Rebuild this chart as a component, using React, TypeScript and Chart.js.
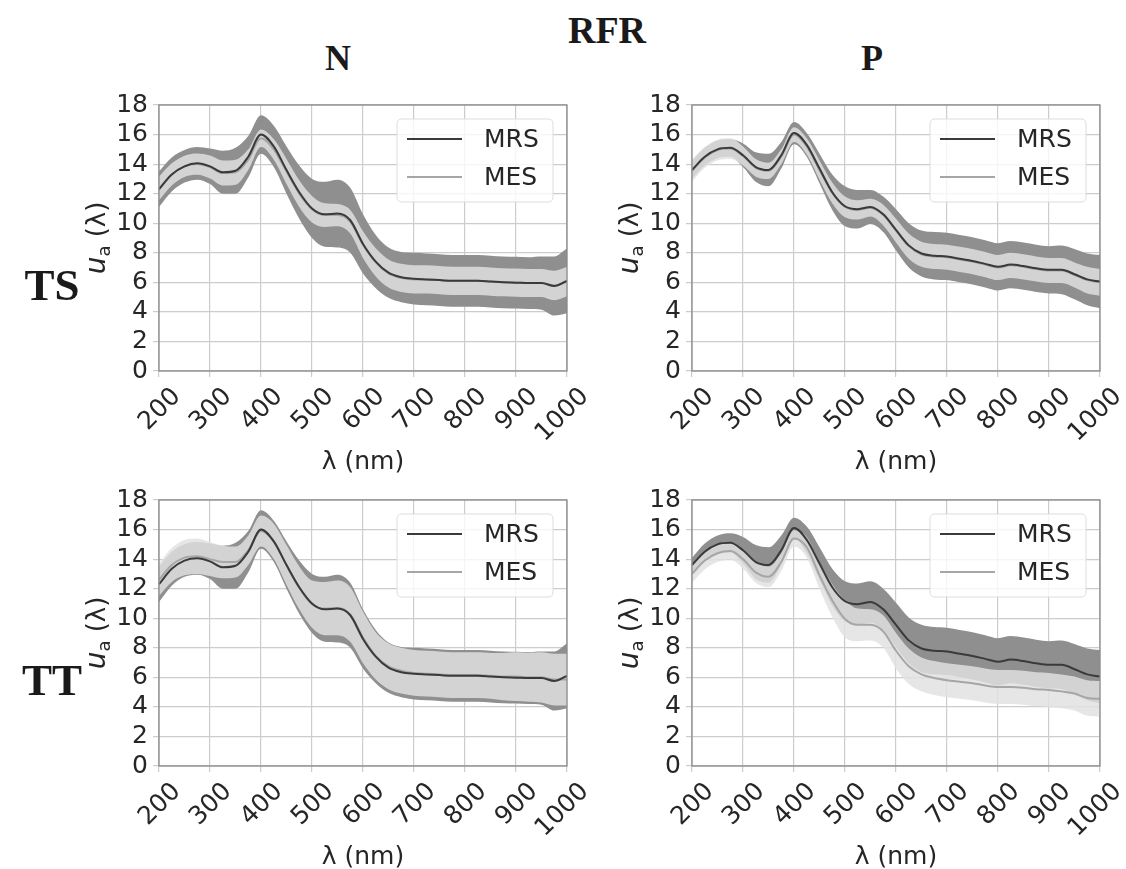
import React, { useEffect, useRef } from "react";
import { Chart, registerables } from "chart.js";

Chart.register(...registerables);

// ---------- data ----------
const WAVELENGTHS = [
  200, 225, 250, 275, 300, 325, 350, 375, 400, 425, 450, 475, 500, 525, 550, 575, 600,
  625, 650, 675, 700, 725, 750, 775, 800, 825, 850, 875, 900, 925, 950, 975, 1000,
];

const SERIES_LABELS = ["MRS", "MES"];
const ROW_LABELS = ["TS", "TT"];
const COL_LABELS = ["N", "P"];
const FIG_TITLE = "RFR";
const X_TITLE = "λ (nm)";

// TS / N
const TS_N_MRS = [12.3, 13.3, 13.85, 14.05, 13.85, 13.45, 13.55, 14.5, 16.0, 15.2, 13.6, 12.1, 11.0, 10.6, 10.65, 10.2, 8.6, 7.4, 6.65, 6.35, 6.25, 6.2, 6.15, 6.1, 6.1, 6.1, 6.05, 6.0, 5.98, 5.95, 5.95, 5.75, 6.1];
const TS_N_MRS_SD = [1.2, 1.15, 1.1, 1.1, 1.2, 1.45, 1.55, 1.4, 1.3, 1.4, 1.6, 1.8, 2.0, 2.2, 2.3, 2.2, 2.0, 1.8, 1.7, 1.7, 1.75, 1.75, 1.75, 1.75, 1.75, 1.75, 1.75, 1.75, 1.75, 1.75, 1.8, 2.0, 2.2];
const TS_N_MES = [12.35, 13.3, 13.85, 14.0, 13.8, 13.4, 13.45, 14.3, 15.75, 15.0, 13.5, 12.0, 10.95, 10.55, 10.55, 10.1, 8.55, 7.35, 6.6, 6.3, 6.2, 6.2, 6.15, 6.1, 6.1, 6.1, 6.05, 6.0, 5.98, 5.95, 5.95, 5.78, 6.05];
const TS_N_MES_SD = [0.8, 0.75, 0.72, 0.72, 0.78, 0.85, 0.85, 0.7, 0.6, 0.7, 0.85, 0.9, 0.9, 0.8, 0.75, 0.8, 0.9, 0.95, 0.95, 0.95, 0.95, 0.95, 0.95, 0.95, 0.95, 0.95, 0.95, 0.95, 0.95, 0.95, 0.95, 1.0, 1.0];

// TS / P
const TS_P_MRS = [13.6, 14.5, 15.0, 15.1, 14.6, 13.8, 13.6, 14.6, 16.1, 15.3, 13.7, 12.1, 11.15, 10.95, 11.1, 10.6, 9.55, 8.5, 7.95, 7.8, 7.75, 7.6, 7.45, 7.25, 7.05, 7.2, 7.1, 6.95, 6.85, 6.85, 6.55, 6.2, 6.05];
const TS_P_MRS_SD = [0.6, 0.6, 0.6, 0.6, 0.8, 1.0, 1.1, 0.9, 0.75, 0.8, 1.0, 1.2, 1.35, 1.3, 1.15, 1.2, 1.4, 1.5, 1.55, 1.6, 1.6, 1.6, 1.6, 1.6, 1.6, 1.6, 1.6, 1.6, 1.6, 1.65, 1.7, 1.75, 1.8];
const TS_P_MES = [13.55, 14.45, 14.95, 15.05, 14.55, 13.75, 13.55, 14.5, 16.0, 15.2, 13.6, 12.05, 11.1, 10.9, 11.05, 10.55, 9.5, 8.45, 7.9, 7.75, 7.7, 7.55, 7.4, 7.2, 7.0, 7.15, 7.05, 6.9, 6.8, 6.8, 6.5, 6.15, 6.0];
const TS_P_MES_SD = [0.75, 0.7, 0.7, 0.7, 0.65, 0.6, 0.55, 0.5, 0.5, 0.55, 0.65, 0.7, 0.7, 0.65, 0.6, 0.7, 0.8, 0.85, 0.85, 0.85, 0.85, 0.85, 0.85, 0.85, 0.85, 0.85, 0.85, 0.85, 0.85, 0.85, 0.85, 0.9, 0.9];

// TT / N
const TT_N_MRS = [12.3, 13.35, 13.9, 14.05, 13.85, 13.45, 13.55, 14.5, 16.0, 15.2, 13.6, 12.1, 11.0, 10.6, 10.65, 10.2, 8.6, 7.4, 6.65, 6.35, 6.25, 6.2, 6.15, 6.1, 6.1, 6.1, 6.05, 6.0, 5.98, 5.95, 5.95, 5.75, 6.1];
const TT_N_MRS_SD = [1.2, 1.15, 1.1, 1.1, 1.2, 1.45, 1.55, 1.4, 1.3, 1.4, 1.6, 1.8, 2.0, 2.2, 2.3, 2.2, 2.0, 1.8, 1.7, 1.7, 1.75, 1.75, 1.75, 1.75, 1.75, 1.75, 1.75, 1.75, 1.75, 1.75, 1.8, 2.0, 2.2];
const TT_N_MES = [12.6, 13.6, 14.1, 14.2, 14.0, 13.8, 13.8, 14.6, 15.9, 15.2, 13.6, 12.05, 10.95, 10.65, 10.7, 10.25, 8.7, 7.45, 6.75, 6.45, 6.3, 6.25, 6.2, 6.15, 6.15, 6.15, 6.1, 6.05, 6.05, 6.0, 6.0, 5.85, 5.85];
const TT_N_MES_SD = [1.1, 1.15, 1.2, 1.2, 1.15, 1.1, 1.05, 1.0, 1.05, 1.2, 1.35, 1.45, 1.6, 1.8, 1.85, 1.85, 1.75, 1.6, 1.55, 1.55, 1.55, 1.55, 1.55, 1.55, 1.55, 1.55, 1.55, 1.6, 1.65, 1.65, 1.7, 1.75, 1.75];

// TT / P
const TT_P_MRS = [13.6, 14.5, 15.0, 15.1, 14.6, 13.8, 13.6, 14.6, 16.1, 15.3, 13.7, 12.1, 11.15, 10.95, 11.1, 10.6, 9.55, 8.5, 7.95, 7.8, 7.75, 7.6, 7.45, 7.25, 7.05, 7.2, 7.1, 6.95, 6.85, 6.85, 6.55, 6.2, 6.05];
const TT_P_MRS_SD = [0.5, 0.55, 0.6, 0.65, 0.9, 1.15, 1.2, 1.0, 0.7, 0.9, 1.1, 1.25, 1.35, 1.4, 1.4, 1.4, 1.5, 1.55, 1.6, 1.6, 1.6, 1.6, 1.6, 1.6, 1.6, 1.6, 1.6, 1.6, 1.6, 1.65, 1.7, 1.75, 1.8];
const TT_P_MES = [13.0, 13.9, 14.4, 14.55, 14.0, 13.1, 12.8, 13.8, 15.4, 14.8, 12.9, 11.2, 9.95, 9.55, 9.55, 9.1, 7.8, 6.75, 6.2, 5.95, 5.8, 5.7, 5.6, 5.45, 5.35, 5.35, 5.3, 5.2, 5.15, 5.05, 4.9, 4.6, 4.55];
const TT_P_MES_SD = [0.6, 0.6, 0.6, 0.6, 0.65, 0.7, 0.7, 0.6, 0.55, 0.7, 0.9, 1.1, 1.25, 1.1, 1.05, 1.1, 1.2, 1.2, 1.15, 1.15, 1.15, 1.15, 1.15, 1.15, 1.15, 1.15, 1.15, 1.15, 1.15, 1.15, 1.15, 1.2, 1.2];

// ---------- styling / layout ----------
const MRS_LINE = "#3a3a3a";
const MES_LINE = "#a6a6a6";
const MRS_BAND = "#8f8f8f";
const MES_BAND = "rgba(225,225,225,0.83)";
const GRID = "#cccccc";
const SPINE = "#8a8a8a";
const TEXT = "#262626";
const SANS = "'DejaVu Sans', sans-serif";
const SERIF = "'Liberation Serif', 'Times New Roman', serif";

const PLOT_W = 408;
const PLOT_H = 266;
const Y_AXIS_W = 80;
const PAD_TOP = 15;
const PAD_RIGHT = 26;
const X_AXIS_H = 103;

type PanelDef = {
  left: number;
  top: number;
  mrs: number[];
  mrsSd: number[];
  mes: number[];
  mesSd: number[];
};

const PANELS: PanelDef[] = [
  { left: 159, top: 105, mrs: TS_N_MRS, mrsSd: TS_N_MRS_SD, mes: TS_N_MES, mesSd: TS_N_MES_SD },
  { left: 692, top: 105, mrs: TS_P_MRS, mrsSd: TS_P_MRS_SD, mes: TS_P_MES, mesSd: TS_P_MES_SD },
  { left: 159, top: 500, mrs: TT_N_MRS, mrsSd: TT_N_MRS_SD, mes: TT_N_MES, mesSd: TT_N_MES_SD },
  { left: 692, top: 500, mrs: TT_P_MRS, mrsSd: TT_P_MRS_SD, mes: TT_P_MES, mesSd: TT_P_MES_SD },
];

const pts = (vals: number[]) => WAVELENGTHS.map((x, i) => ({ x, y: vals[i] }));
const offs = (vals: number[], sd: number[], sign: number) =>
  WAVELENGTHS.map((x, i) => ({ x, y: vals[i] + sign * sd[i] }));

const decorPlugin = {
  id: "decor",
  afterDatasetsDraw(chart: any) {
    const { ctx, chartArea } = chart;
    ctx.save();
    ctx.strokeStyle = SPINE;
    ctx.lineWidth = 1.3;
    ctx.strokeRect(chartArea.left, chartArea.top, chartArea.right - chartArea.left, chartArea.bottom - chartArea.top);
    ctx.restore();
  },
  afterDraw(chart: any) {
    const { ctx, chartArea } = chart;
    const ds = chart.data.datasets;
    ctx.save();
    // legend
    const bw = 156, bh = 83;
    const bx = chartArea.right - 14 - bw;
    const by = chartArea.top + 14;
    const r = 5;
    ctx.beginPath();
    ctx.moveTo(bx + r, by);
    ctx.lineTo(bx + bw - r, by);
    ctx.quadraticCurveTo(bx + bw, by, bx + bw, by + r);
    ctx.lineTo(bx + bw, by + bh - r);
    ctx.quadraticCurveTo(bx + bw, by + bh, bx + bw - r, by + bh);
    ctx.lineTo(bx + r, by + bh);
    ctx.quadraticCurveTo(bx, by + bh, bx, by + bh - r);
    ctx.lineTo(bx, by + r);
    ctx.quadraticCurveTo(bx, by, bx + r, by);
    ctx.closePath();
    ctx.fillStyle = "rgba(255,255,255,0.8)";
    ctx.fill();
    ctx.strokeStyle = "#dddddd";
    ctx.lineWidth = 1;
    ctx.stroke();
    const entries = [ds[5], ds[4]];
    entries.forEach((d: any, i: number) => {
      const y = by + 20 + i * 38;
      ctx.beginPath();
      ctx.moveTo(bx + 10, y);
      ctx.lineTo(bx + 65, y);
      ctx.strokeStyle = d.borderColor;
      ctx.lineWidth = 2;
      ctx.stroke();
      ctx.fillStyle = TEXT;
      ctx.font = `25px ${SANS}`;
      ctx.textAlign = "left";
      ctx.textBaseline = "middle";
      ctx.fillText(d.label, bx + 87, y + 1);
    });
    // x title
    ctx.fillStyle = TEXT;
    ctx.font = `25px ${SANS}`;
    ctx.textAlign = "center";
    ctx.textBaseline = "middle";
    ctx.fillText(X_TITLE, (chartArea.left + chartArea.right) / 2, chartArea.bottom + 91);
    // y title: u_a (λ)
    const cx = chartArea.left - 63;
    const cy = (chartArea.top + chartArea.bottom) / 2;
    ctx.translate(cx, cy);
    ctx.rotate(-Math.PI / 2);
    const fMain = `italic 28px ${SANS}`;
    const fSub = `18px ${SANS}`;
    const fRest = `26px ${SANS}`;
    ctx.font = fMain;
    const wU = ctx.measureText("u").width;
    ctx.font = fSub;
    const wA = ctx.measureText("a").width;
    ctx.font = fRest;
    const rest = " (λ)";
    const wR = ctx.measureText(rest).width;
    let x0 = -(wU + wA + wR) / 2;
    ctx.textAlign = "left";
    ctx.textBaseline = "alphabetic";
    const base = 9;
    ctx.font = fMain;
    ctx.fillText("u", x0, base);
    x0 += wU;
    ctx.font = fSub;
    ctx.fillText("a", x0, base + 5);
    x0 += wA;
    ctx.font = fRest;
    ctx.fillText(rest, x0, base);
    ctx.restore();
  },
};

function makeConfig(p: PanelDef): any {
  const tickFont = { family: SANS, size: 25 };
  return {
    type: "line",
    data: {
      datasets: [
        { label: "MRS+", data: offs(p.mrs, p.mrsSd, 1), borderWidth: 0, borderColor: "rgba(0,0,0,0)", fill: false, order: 10 },
        { label: "MRS-", data: offs(p.mrs, p.mrsSd, -1), borderWidth: 0, borderColor: "rgba(0,0,0,0)", fill: "-1", backgroundColor: MRS_BAND, order: 9 },
        { label: "MES+", data: offs(p.mes, p.mesSd, 1), borderWidth: 0, borderColor: "rgba(0,0,0,0)", fill: false, order: 8 },
        { label: "MES-", data: offs(p.mes, p.mesSd, -1), borderWidth: 0, borderColor: "rgba(0,0,0,0)", fill: "-1", backgroundColor: MES_BAND, order: 7 },
        { label: SERIES_LABELS[1], data: pts(p.mes), borderColor: MES_LINE, borderWidth: 2, fill: false, order: 2 },
        { label: SERIES_LABELS[0], data: pts(p.mrs), borderColor: MRS_LINE, borderWidth: 2, fill: false, order: 1 },
      ],
    },
    options: {
      responsive: false,
      animation: false,
      devicePixelRatio: 1,
      layout: { padding: { top: PAD_TOP, right: PAD_RIGHT, bottom: 0, left: 0 }, autoPadding: false },
      elements: { point: { radius: 0, hoverRadius: 0 }, line: { cubicInterpolationMode: "monotone" } },
      plugins: { legend: { display: false }, tooltip: { enabled: false }, filler: { propagate: false } },
      events: [],
      scales: {
        x: {
          type: "linear",
          min: 200,
          max: 1000,
          ticks: {
            stepSize: 100,
            autoSkip: false,
            minRotation: 45,
            maxRotation: 45,
            font: tickFont,
            color: TEXT,
            padding: 5,
            labelOffset: 18,
            callback: (v: number) => String(v),
          },
          grid: { color: GRID, lineWidth: 1.2, tickLength: 6, drawTicks: true },
          border: { display: false },
          afterFit: (s: any) => {
            s.height = X_AXIS_H;
            s.paddingLeft = 0;
            s.paddingRight = 0;
          },
        },
        y: {
          min: 0,
          max: 18,
          ticks: { stepSize: 2, autoSkip: false, font: tickFont, color: TEXT, padding: 5, callback: (v: number) => String(v) },
          grid: { color: GRID, lineWidth: 1.2, tickLength: 6, drawTicks: true },
          border: { display: false },
          afterFit: (s: any) => {
            s.width = Y_AXIS_W;
            s.paddingTop = 0;
            s.paddingBottom = 0;
          },
        },
      },
    },
    plugins: [decorPlugin],
  };
}

const labelStyle = (x: number, y: number, size: number): React.CSSProperties => ({
  position: "absolute",
  left: x,
  top: y,
  transform: "translate(-50%, -50%)",
  fontFamily: SERIF,
  fontWeight: "bold",
  fontSize: size,
  lineHeight: 1,
  color: "#1a1a1a",
  whiteSpace: "nowrap",
});

export default function App() {
  const refs = [useRef<HTMLCanvasElement>(null), useRef<HTMLCanvasElement>(null), useRef<HTMLCanvasElement>(null), useRef<HTMLCanvasElement>(null)];

  useEffect(() => {
    const charts = PANELS.map((p, i) => new Chart(refs[i].current as HTMLCanvasElement, makeConfig(p)));
    return () => charts.forEach((c) => c.destroy());
  }, []);

  const cw = Y_AXIS_W + PLOT_W + PAD_RIGHT;
  const ch = PAD_TOP + PLOT_H + X_AXIS_H;

  return (
    <div style={{ position: "absolute", left: 0, top: 0, width: 1126, height: 869, background: "#fff", overflow: "hidden" }}>
      {PANELS.map((p, i) => (
        <canvas
          key={i}
          ref={refs[i]}
          width={cw}
          height={ch}
          style={{ position: "absolute", left: p.left - Y_AXIS_W, top: p.top - PAD_TOP, width: cw, height: ch }}
        />
      ))}
      <div style={labelStyle(607, 30, 38)}>{FIG_TITLE}</div>
      <div style={labelStyle(338, 58, 36)}>{COL_LABELS[0]}</div>
      <div style={labelStyle(872, 58, 36)}>{COL_LABELS[1]}</div>
      <div style={labelStyle(52, 285, 45)}>{ROW_LABELS[0]}</div>
      <div style={labelStyle(52, 680, 45)}>{ROW_LABELS[1]}</div>
    </div>
  );
}
